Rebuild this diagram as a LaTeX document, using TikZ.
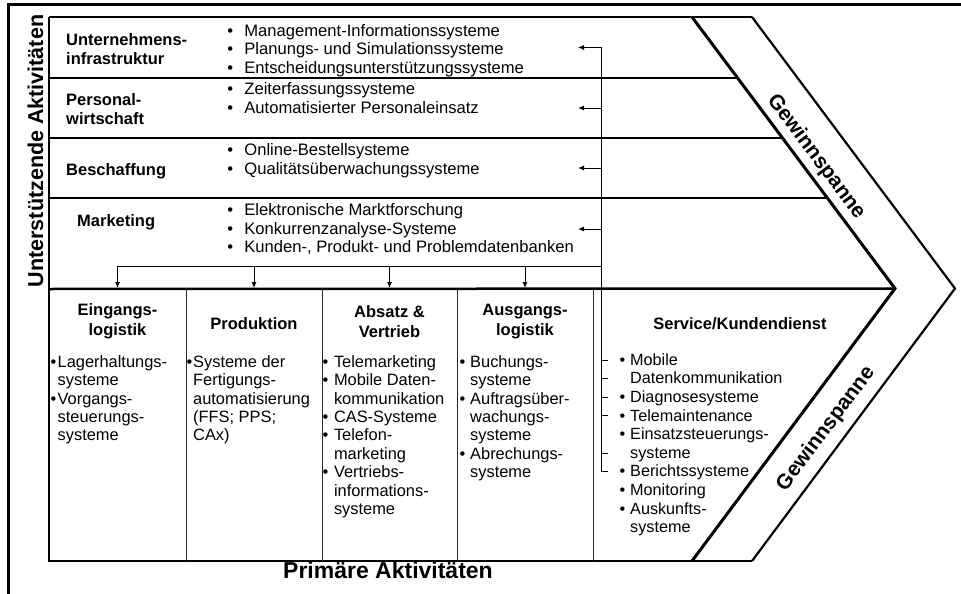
\documentclass[tikz,border=0pt]{standalone}
\usepackage{fontspec}
\setmainfont{Liberation Sans}
\usetikzlibrary{arrows.meta}
\newcommand\tstr{\rule{0pt}{13pt}}
\newcommand\bl[1]{\makebox[#1][l]{•}}
\newcommand\hsk[1]{\makebox[#1]{}}
\begin{document}
\begin{tikzpicture}[x=1pt,y=-1pt,
  thinline/.style={line width=1.1pt},
  divider/.style={line width=1pt, draw=black!85},
  conn/.style={line width=1pt,-{Latex[length=6pt,width=5pt]}},
  plain/.style={line width=1pt},
  lbl/.style={font=\fontsize{16.5}{19}\selectfont\bfseries, inner sep=0pt, align=left},
  hdr/.style={font=\fontsize{16.5}{20}\selectfont\bfseries, inner sep=0pt, align=center},
  slst/.style={font=\fontsize{16.6}{18.8}\selectfont, inner sep=0pt, align=left},
  clst/.style={font=\fontsize{16.4}{18.4}\selectfont, inner sep=0pt, align=left},
  axis/.style={font=\fontsize{21.5}{24}\selectfont\bfseries, inner sep=0pt},
  gew/.style={font=\fontsize{21}{24}\selectfont\bfseries, inner sep=0pt},
]
\useasboundingbox (0,0) rectangle (961,594);
% outer frame
\coordinate (fbl) at (8,594); \coordinate (ftl) at (8,5); \coordinate (ftr) at (961,5);
\draw[line width=3pt] (fbl) -- (ftl) -- (ftr);
% main shape
\coordinate (A) at (49,17); \coordinate (B) at (692,17); \coordinate (C) at (895,288.5);
\coordinate (D) at (692,561); \coordinate (E) at (49,561); \coordinate (F) at (752,17);
\coordinate (G) at (955,288.5); \coordinate (H) at (752,561); \coordinate (M) at (49,289);
\draw[line width=1.6pt] (A) -- (F);
\draw[line width=2.5pt] (A) -- (E) -- (H);
\draw[line width=3pt, line join=miter] (B) -- (C) -- (D);
\draw[line width=2.2pt, line join=miter] (F) -- (G) -- (H);
\draw[line width=2.5pt] (M) -- (C);
% support rows
\coordinate (l1) at (49,78);  \coordinate (r1) at (737.6,78);
\coordinate (l2) at (49,138); \coordinate (r2) at (782.5,138);
\coordinate (l3) at (49,198); \coordinate (r3) at (827.3,198);
\draw[thinline] (l1) -- (r1);
\draw[thinline] (l2) -- (r2);
\draw[thinline] (l3) -- (r3);
% column dividers
\foreach \x/\n in {186/1,322/2,457/3,593/4}{
  \coordinate (dt\n) at (\x,289); \coordinate (db\n) at (\x,561);
  \draw[divider] (dt\n) -- (db\n);
}
% vertical connector line and arrows to support rows
\coordinate (vt) at (601,47.5);
\coordinate (vb) at (601,471.6);
\coordinate (ve) at (608,471.6);
\draw[plain] (vt) -- (vb) -- (ve);
\foreach \y/\n in {47.5/1,108/2,168/3,229/4}{
  \coordinate (tap\n) at (601,\y); \coordinate (tip\n) at (578,\y);
  \draw[conn] (tap\n) -- (tip\n);
}
% bus to primary activities
\coordinate (bus0) at (117.5,266); \coordinate (bus4) at (601,266);
\draw[plain] (bus0) -- (bus4);
\foreach \x/\n in {117.5/1,254/2,389.5/3,525/4}{
  \coordinate (bs\n) at (\x,266); \coordinate (be\n) at (\x,288);
  \draw[conn] (bs\n) -- (be\n);
}
% service ticks
\foreach \y/\n in {360/1,378.6/2,397.2/3,415.8/4,453/5}{
  \coordinate (tk\n) at (601,\y); \coordinate (tke\n) at (608,\y);
  \draw[plain] (tk\n) -- (tke\n);
}
% axis labels
\node[axis, rotate=90, anchor=base] (ua) at (43,151) {Unterstützende Aktivitäten};
\node[axis, anchor=base, font=\fontsize{23}{26}\selectfont\bfseries] (pa) at (388,578) {Primäre Aktivitäten};
% support labels
\node[lbl, anchor=north west] (lu) at (66,32) {\tstr Unternehmens-\\infrastruktur};
\node[lbl, anchor=north west] (lp) at (66,92) {\tstr Personal-\\wirtschaft};
\node[lbl, anchor=base west] (lb) at (66,175) {Beschaffung};
\node[lbl, anchor=base west] (lm) at (77,226) {Marketing};
% support lists
\node[slst, anchor=north west] (su) at (227.2,23) {\tstr\bl{17pt}Management-Informationssysteme\\\bl{17pt}Planungs- und Simulationssysteme\\\bl{17pt}Entscheidungsunterstützungssysteme};
\node[slst, anchor=north west] (sp) at (227.2,81) {\tstr\bl{17pt}Zeiterfassungssysteme\\\bl{17pt}Automatisierter Personaleinsatz};
\node[slst, anchor=north west] (sb) at (227.2,142) {\tstr\bl{17pt}Online-Bestellsysteme\\\bl{17pt}Qualitätsüberwachungssysteme};
\node[slst, anchor=north west] (sm) at (227.2,202) {\tstr\bl{17pt}Elektronische Marktforschung\\\bl{17pt}Konkurrenzanalyse-Systeme\\\bl{17pt}Kunden-, Produkt- und Problemdatenbanken};
% primary headers
\node[hdr, anchor=north] (he) at (117.5,302) {\tstr Eingangs-\\logistik};
\node[hdr, anchor=base] (hp) at (254,329) {Produktion};
\node[hdr, anchor=north] (ha) at (389.5,304) {\tstr Absatz \&\\Vertrieb};
\node[hdr, anchor=north] (hg) at (525,302) {\tstr Ausgangs-\\logistik};
\node[hdr, anchor=base] (hs) at (740,329) {Service/Kundendienst};
% primary lists
\node[clst, anchor=north west] (ce) at (50.5,354) {\tstr\bl{7pt}Lagerhaltungs-\\\hsk{7pt}systeme\\\bl{7pt}Vorgangs-\\\hsk{7pt}steuerungs-\\\hsk{7pt}systeme};
\node[clst, anchor=north west] (cp) at (186.5,354) {\tstr\bl{6.5pt}Systeme der\\\hsk{6.5pt}Fertigungs-\\\hsk{6.5pt}automatisierung\\\hsk{6.5pt}(FFS; PPS;\\\hsk{6.5pt}CAx)};
\node[clst, anchor=north west] (ca) at (322.3,354) {\tstr\bl{11.5pt}Telemarketing\\\bl{11.5pt}Mobile Daten-\\\hsk{11.5pt}kommunikation\\\bl{11.5pt}CAS-Systeme\\\bl{11.5pt}Telefon-\\\hsk{11.5pt}marketing\\\bl{11.5pt}Vertriebs-\\\hsk{11.5pt}informations-\\\hsk{11.5pt}systeme};
\node[clst, anchor=north west] (cg) at (459.5,354) {\tstr\bl{10.5pt}Buchungs-\\\hsk{10.5pt}systeme\\\bl{10.5pt}Auftragsüber-\\\hsk{10.5pt}wachungs-\\\hsk{10.5pt}systeme\\\bl{10.5pt}Abrechungs-\\\hsk{10.5pt}systeme};
\node[clst, anchor=north west, font=\fontsize{16.2}{18.6}\selectfont] (cs) at (619.5,352) {\tstr\bl{10.5pt}Mobile\\\hsk{10.5pt}Datenkommunikation\\\bl{10.5pt}Diagnosesysteme\\\bl{10.5pt}Telemaintenance\\\bl{10.5pt}Einsatzsteuerungs-\\\hsk{10.5pt}systeme\\\bl{10.5pt}Berichtssysteme\\\bl{10.5pt}Monitoring\\\bl{10.5pt}Auskunfts-\\\hsk{10.5pt}systeme};
% margin labels
\node[gew, rotate=-53.2] (g1) at (816,157) {Gewinnspanne};
\node[gew, rotate=53.2] (g2) at (826,429) {Gewinnspanne};
\end{tikzpicture}
\end{document}
